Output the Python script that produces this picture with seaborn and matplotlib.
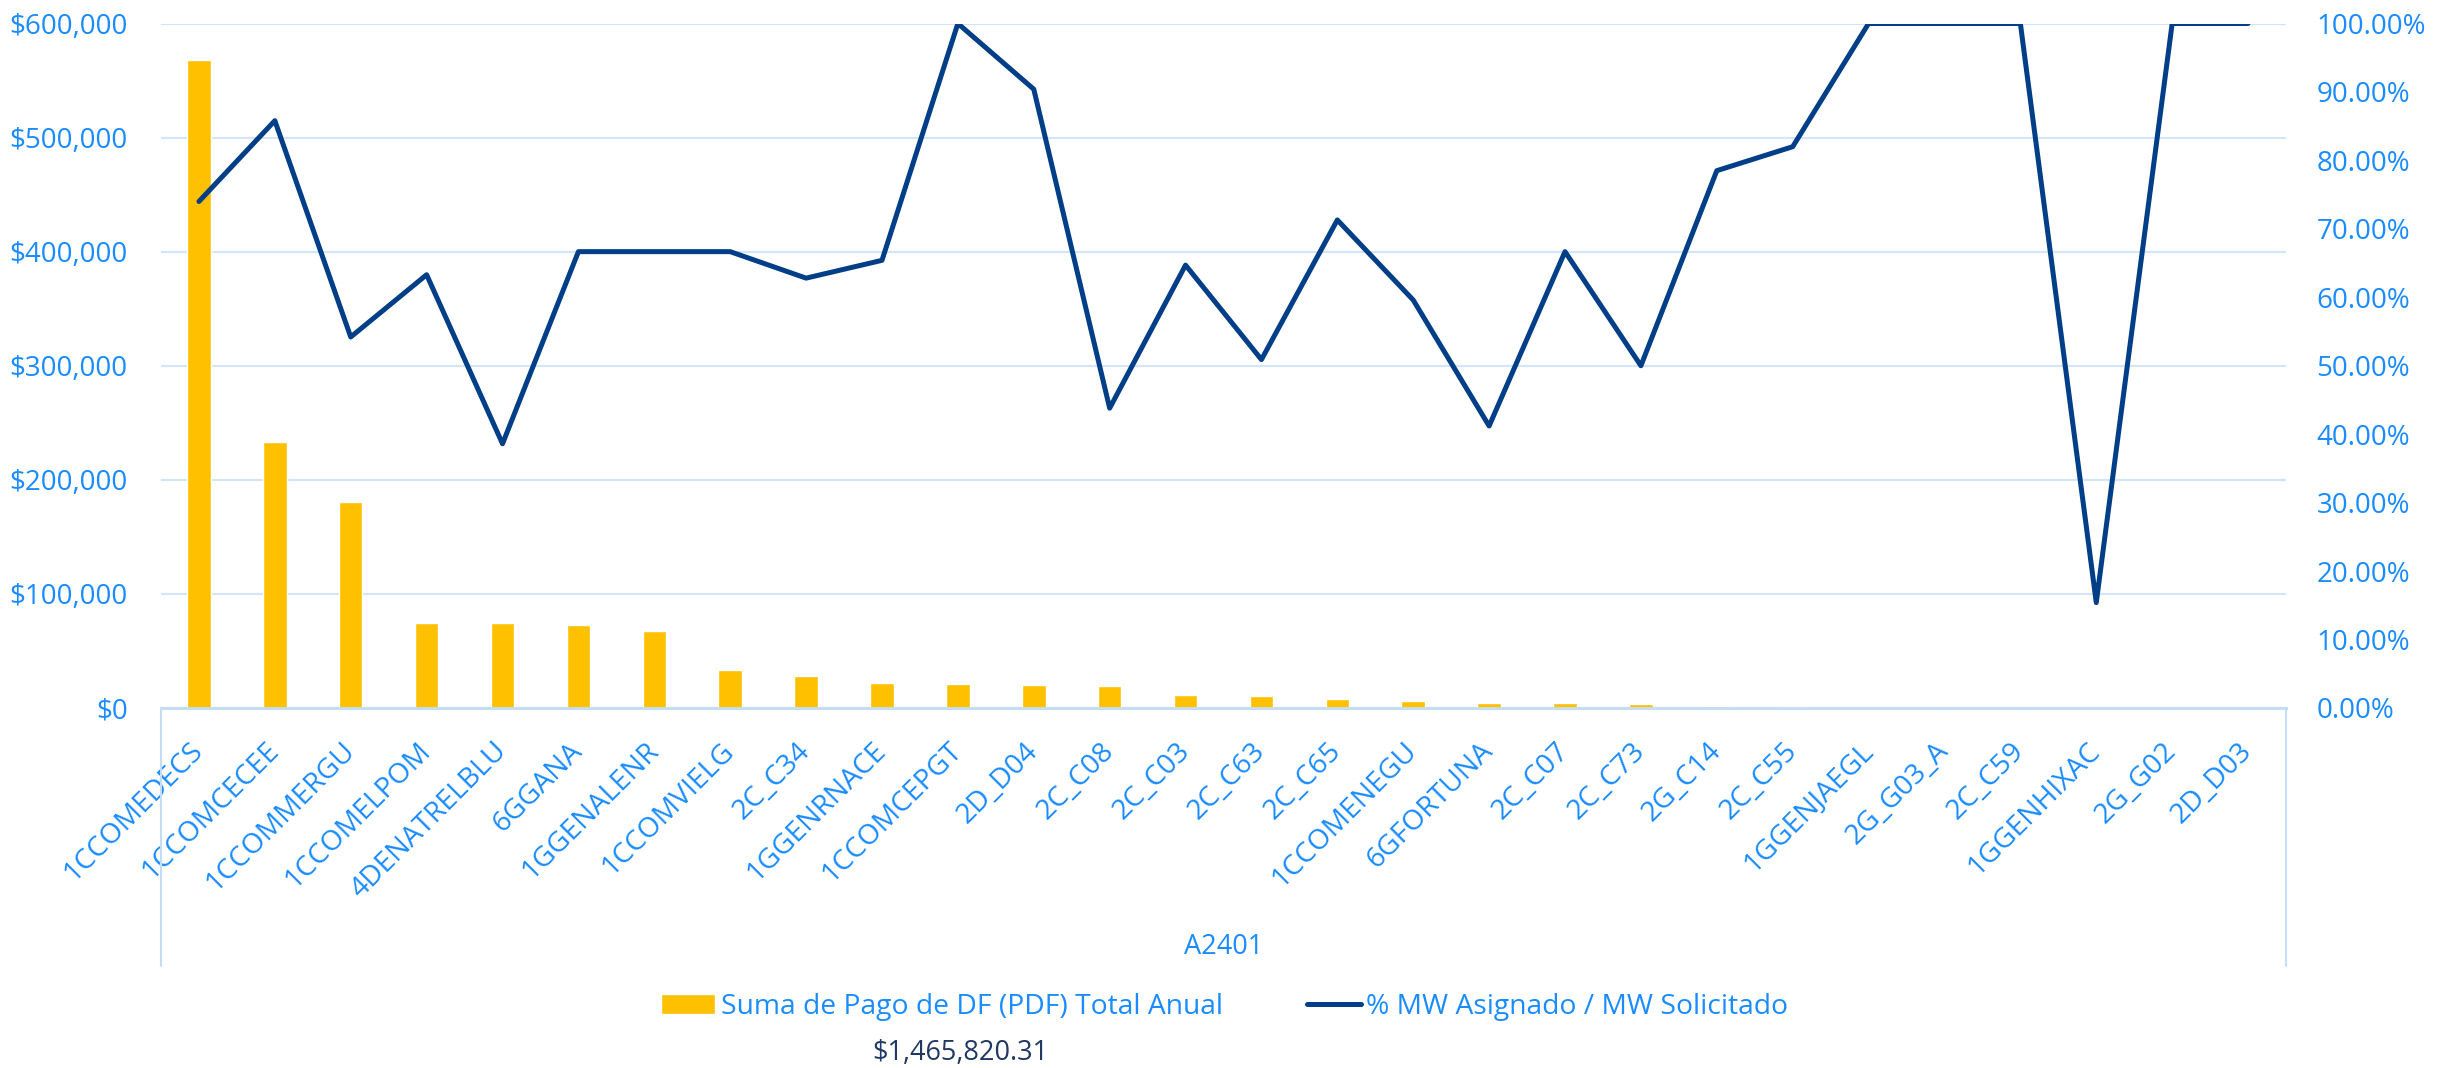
import pandas as pd
import seaborn as sns
import matplotlib.pyplot as plt
from matplotlib.lines import Line2D
from matplotlib.ticker import FuncFormatter, MultipleLocator

# data
categories = ["1CCOMEDECS", "1CCOMCECEE", "1CCOMMERGU", "1CCOMELPOM", "4DENATRELBLU",
              "6GGANA", "1GGENALENR", "1CCOMVIELG", "2C_C34", "1GGENRNACE",
              "1CCOMCEPGT", "2D_D04", "2C_C08", "2C_C03", "2C_C63", "2C_C65",
              "1CCOMENEGU", "6GFORTUNA", "2C_C07", "2C_C73", "2G_C14", "2C_C55",
              "1GGENJAEGL", "2G_G03_A", "2C_C59", "1GGENHIXAC", "2G_G02", "2D_D03"]
pago = [567900, 233000, 181000, 74800, 74800, 73100, 67200, 33200, 27800, 21600,
        20800, 19900, 19300, 11400, 10500, 7600, 6400, 4700, 4100, 3200, 1500, 920,
        0, 0, 0, 0, 0, 0]
pct_mw = [0.740, 0.858, 0.542, 0.633, 0.386, 0.6667, 0.6667, 0.6667, 0.628, 0.654,
          1.0, 0.904, 0.438, 0.647, 0.509, 0.713, 0.596, 0.412, 0.6667, 0.50,
          0.785, 0.820, 1.0, 1.0, 1.0, 0.154, 1.0, 1.0]
group = "A2401"
total_label = "$1,465,820.31"

df = pd.DataFrame({"cat": categories, "pago": pago, "pct": pct_mw})
df["pos"] = range(len(df))

blue_txt = "#1a8cff"
navy = "#003f88"
gold = "#FFC000"
grid_c = "#d3e5f9"

sns.set_style("white")
plt.rcParams["font.family"] = ["Open Sans", "DejaVu Sans"]

W, H = 2453, 1068
fig = plt.figure(figsize=(W / 100, H / 100), dpi=100)
x0, x1, y0, y1 = 161, 2286, 23.5, 708
ax = fig.add_axes([x0 / W, 1 - y1 / H, (x1 - x0) / W, (y1 - y0) / H])

sns.barplot(data=df, x="cat", y="pago", ax=ax, color=gold, saturation=1,
            width=0.31, label="Suma de Pago de DF (PDF) Total Anual", zorder=3)
ax.set_ylim(0, 600000)
ax.set_xlim(-0.5, len(df) - 0.5)
ax.yaxis.set_major_locator(MultipleLocator(100000))
ax.yaxis.set_major_formatter(FuncFormatter(lambda v, p: "${:,.0f}".format(v)))
ax.grid(axis="y", color=grid_c, linewidth=1.6, zorder=0)
ax.set_axisbelow(True)

ax2 = ax.twinx()
sns.lineplot(data=df, x="pos", y="pct", ax=ax2, color=navy, linewidth=3.6,
             sort=False, label="% MW Asignado / MW Solicitado", zorder=4)
ax2.set_ylim(0, 1)
ax2.yaxis.set_major_locator(MultipleLocator(0.1))
ax2.yaxis.set_major_formatter(FuncFormatter(lambda v, p: "{:.2%}".format(v)))
ax2.set_xlim(-0.5, len(df) - 0.5)

for a in (ax, ax2):
    for s in ["top", "left", "right"]:
        a.spines[s].set_visible(False)
    a.spines["bottom"].set_color("#c5dcf5")
    a.spines["bottom"].set_linewidth(2)
    a.set_xlabel("")
    a.set_ylabel("")
    a.tick_params(axis="y", length=0, pad=22, labelsize=20, labelcolor=blue_txt)
    leg = a.get_legend()
    if leg:
        leg.remove()
ax.tick_params(axis="y", pad=24)

ax.tick_params(axis="x", length=0, pad=28, labelsize=20.3, labelcolor=blue_txt)
plt.setp(ax.get_xticklabels(), rotation=45, ha="right", va="center", rotation_mode="anchor")

# multi-level category box and group label
for xx in (x0, x1):
    fig.add_artist(Line2D([xx / W, xx / W], [1 - y1 / H, 1 - 966 / H],
                          color="#c5dcf5", linewidth=1.5))
fig.text((x0 + x1) / 2 / W, 1 - 947 / H, group, ha="center", va="center",
         fontsize=19.5, color=blue_txt)

h1, l1 = ax.get_legend_handles_labels()
h2, l2 = ax2.get_legend_handles_labels()
fig.legend(h1 + h2, l1 + l2, loc="center", bbox_to_anchor=(1225 / W, 1 - 1007 / H),
           ncol=2, frameon=False, fontsize=20.3, labelcolor=blue_txt,
           handlelength=1.9, handletextpad=0.2, columnspacing=3.0)

fig.text(960 / W, 1 - 1053 / H, total_label, ha="center", va="center",
         fontsize=19.5, color="#1f3864")

plt.savefig("out.png", dpi=100)
